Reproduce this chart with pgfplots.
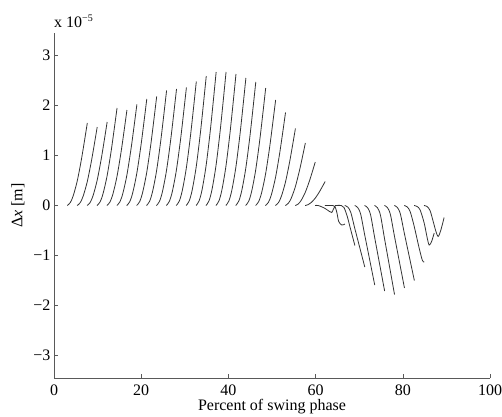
\documentclass[border=0pt]{standalone}
\usepackage{fontspec}
\setmainfont{Liberation Serif}
\usepackage{pgfplots}
\pgfplotsset{compat=1.18}

\begin{document}
\begin{tikzpicture}[font=\fontsize{16}{19}\selectfont]
\begin{axis}[
    name=ax,
    scale only axis,
    width=436pt, height=345pt,
    xmin=0, xmax=100, ymin=-3.45, ymax=3.45,
    axis x line*=bottom, axis y line*=left,
    axis line style={-, black!65, line width=0.6pt},
    tick style={black!65, line width=0.6pt},
    tick align=inside, major tick length=4pt,
    xtick={0,20,...,100},
    xticklabels={0,20,40,60,80,100},
    ytick={-3,...,3},
    yticklabels={−3,−2,−1,0,1,2,3},
    tick label style={font=\fontsize{16}{19}\selectfont},
    xticklabel style={yshift=-3pt},
    label style={font=\fontsize{16}{19}\selectfont},
    xlabel={Percent of swing phase},
    xlabel style={yshift=3pt},
    ylabel={Δ\textit{x} [m]},
    ylabel style={yshift=2pt},
    curve/.style={black!80, line width=0.8pt, smooth, mark=none},
  ]
  % rising strokes
  \addplot[curve] coordinates {(3.04,0) (3.73,0.058) (4.42,0.198) (5.34,0.495) (6.26,0.908) (6.95,1.271) (7.64,1.65)};
  \addplot[curve] coordinates {(5.31,0) (6.00,0.055) (6.69,0.188) (7.61,0.471) (8.53,0.864) (9.22,1.209) (9.91,1.57)};
  \addplot[curve] coordinates {(7.59,0) (8.28,0.058) (8.97,0.200) (9.89,0.501) (10.81,0.919) (11.50,1.286) (12.19,1.67)};
  \addplot[curve] coordinates {(9.86,0) (10.55,0.068) (11.24,0.234) (12.16,0.585) (13.08,1.073) (13.77,1.502) (14.46,1.95)};
  \addplot[curve] coordinates {(12.13,0) (12.82,0.067) (13.51,0.229) (14.43,0.573) (15.35,1.051) (16.04,1.471) (16.73,1.91)};
  \addplot[curve] coordinates {(14.41,0) (15.10,0.071) (15.79,0.242) (16.71,0.606) (17.63,1.111) (18.32,1.555) (19.01,2.02)};
  \addplot[curve] coordinates {(16.68,0) (17.37,0.075) (18.06,0.256) (18.98,0.639) (19.90,1.172) (20.59,1.640) (21.28,2.13)};
  \addplot[curve] coordinates {(18.95,0) (19.64,0.076) (20.33,0.262) (21.25,0.654) (22.17,1.199) (22.86,1.679) (23.55,2.18)};
  \addplot[curve] coordinates {(21.22,0) (21.91,0.081) (22.60,0.276) (23.52,0.690) (24.44,1.265) (25.13,1.771) (25.82,2.30)};
  \addplot[curve] coordinates {(23.50,0) (24.19,0.082) (24.88,0.280) (25.80,0.699) (26.72,1.282) (27.41,1.794) (28.10,2.33)};
  \addplot[curve] coordinates {(25.77,0) (26.46,0.083) (27.15,0.283) (28.07,0.708) (28.99,1.298) (29.68,1.817) (30.37,2.36)};
  \addplot[curve] coordinates {(28.04,0) (28.73,0.087) (29.42,0.298) (30.34,0.744) (31.26,1.364) (31.95,1.910) (32.64,2.48)};
  \addplot[curve] coordinates {(30.32,0) (31.01,0.091) (31.70,0.311) (32.62,0.777) (33.54,1.425) (34.23,1.994) (34.92,2.59)};
  \addplot[curve] coordinates {(32.59,0) (33.28,0.093) (33.97,0.320) (34.89,0.801) (35.81,1.469) (36.50,2.056) (37.19,2.67)};
  \addplot[curve] coordinates {(34.86,0) (35.55,0.093) (36.24,0.320) (37.16,0.801) (38.08,1.469) (38.77,2.056) (39.46,2.67)};
  \addplot[curve] coordinates {(37.14,0) (37.83,0.092) (38.52,0.316) (39.44,0.789) (40.36,1.447) (41.05,2.025) (41.74,2.63)};
  \addplot[curve] coordinates {(39.41,0) (40.10,0.089) (40.79,0.306) (41.71,0.765) (42.63,1.403) (43.32,1.964) (44.01,2.55)};
  \addplot[curve] coordinates {(41.68,0) (42.37,0.086) (43.06,0.296) (43.98,0.741) (44.90,1.359) (45.59,1.902) (46.28,2.47)};
  \addplot[curve] coordinates {(43.95,0) (44.64,0.082) (45.33,0.282) (46.25,0.705) (47.17,1.293) (47.86,1.810) (48.55,2.35)};
  \addplot[curve] coordinates {(46.23,0) (46.92,0.074) (47.61,0.253) (48.53,0.633) (49.45,1.161) (50.14,1.625) (50.83,2.11)};
  \addplot[curve] coordinates {(48.50,0) (49.19,0.065) (49.88,0.223) (50.80,0.558) (51.72,1.023) (52.41,1.432) (53.10,1.86)};
  \addplot[curve] coordinates {(50.77,0) (51.46,0.054) (52.15,0.185) (53.07,0.462) (53.99,0.847) (54.68,1.186) (55.37,1.54)};
  \addplot[curve] coordinates {(53.05,0) (53.74,0.044) (54.43,0.150) (55.35,0.375) (56.27,0.688) (56.96,0.963) (57.65,1.25)};
  \addplot[curve] coordinates {(55.32,0) (56.01,0.030) (56.70,0.104) (57.62,0.261) (58.54,0.479) (59.23,0.670) (59.92,0.87)};
  \addplot[curve] coordinates {(57.59,0) (58.28,0.017) (58.97,0.058) (59.89,0.144) (60.81,0.264) (61.50,0.370) (62.19,0.48)};
  % transition
  \addplot[curve] coordinates {(59.87,0) (60.6,0) (62.0,-0.05) (63.2,-0.12) (63.7,-0.14) (64.05,-0.08) (64.47,-0.01)};
  \addplot[curve] coordinates {(62.14,0) (64.0,0) (64.5,-0.03) (64.9,-0.15) (65.3,-0.32) (66.0,-0.39) (66.74,-0.37)};
  \addplot[curve] coordinates {(64.41,0) (65.9,0) (66.5,-0.04) (67.2,-0.2) (68.1,-0.5) (69.01,-0.80)};
  % falling strokes
  \addplot[curve] coordinates {(66.68,0) (67.37,-0.031) (68.06,-0.135) (68.98,-0.455) (70.13,-0.843) (71.28,-1.23)};
  \addplot[curve] coordinates {(68.96,0) (69.65,-0.040) (70.34,-0.175) (71.26,-0.588) (72.41,-1.089) (73.56,-1.59)};
  \addplot[curve] coordinates {(71.23,0) (71.92,-0.043) (72.61,-0.188) (73.53,-0.633) (74.68,-1.171) (75.83,-1.71)};
  \addplot[curve] coordinates {(73.50,0) (74.19,-0.045) (74.88,-0.196) (75.80,-0.659) (76.95,-1.219) (78.10,-1.78)};
  \addplot[curve] coordinates {(75.78,0) (76.47,-0.041) (77.16,-0.182) (78.08,-0.611) (79.23,-1.130) (80.38,-1.65)};
  \addplot[curve] coordinates {(78.05,0) (78.74,-0.038) (79.43,-0.165) (80.35,-0.555) (81.50,-1.028) (82.65,-1.50)};
  \addplot[curve] coordinates {(80.32,0) (81.01,-0.028) (81.70,-0.125) (82.62,-0.42) (83.77,-0.86) (84.5,-1.10) (84.92,-1.13)};
  \addplot[curve] coordinates {(82.60,0) (83.29,-0.02) (83.98,-0.09) (84.9,-0.35) (85.6,-0.65) (86.05,-0.79) (86.6,-0.72) (87.2,-0.55)};
  \addplot[curve] coordinates {(84.87,0) (85.56,-0.02) (86.25,-0.10) (87.0,-0.33) (87.6,-0.52) (88.1,-0.62) (88.7,-0.50) (89.47,-0.24)};
\end{axis}
\node[anchor=base west, inner sep=0pt, yshift=6pt] at (ax.north west)
  {x 10\raisebox{0.75ex}{\fontsize{10}{12}\selectfont −5}};
\pgfresetboundingbox
\path[use as bounding box] ([shift={(-54pt,-38pt)}]ax.south west) rectangle ([shift={(12pt,33pt)}]ax.north east);
\end{tikzpicture}
\end{document}
